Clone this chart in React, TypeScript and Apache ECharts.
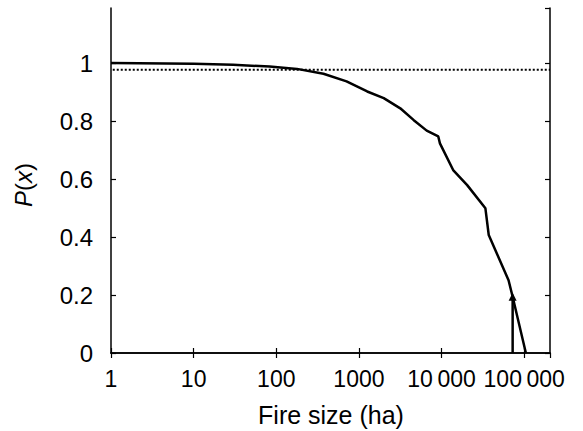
import React, { useEffect, useRef } from "react";
import * as echarts from "echarts";

const fireSize = [1, 10, 30, 83, 178, 372, 708, 1259, 1995, 3162, 4571, 6607, 9120, 9550, 13800, 20400, 33900, 37200, 64600, 72400, 104700];
const probability = [1.0, 0.998, 0.994, 0.988, 0.98, 0.963, 0.937, 0.902, 0.879, 0.844, 0.804, 0.767, 0.747, 0.723, 0.631, 0.579, 0.499, 0.407, 0.251, 0.194, 0];
const verticalX = [72400, 72400];
const verticalY = [0, 0.194];
const dottedX = [1.05, 205000];
const dottedY = [0.977, 0.977];
const xMin = 1;
const xMax = 205000;
const yMin = 0;
const yMax = 1.19;

const FONT = "Liberation Sans, Arial, sans-serif";

function fmtX(v: number): string {
  const s = String(Math.round(v));
  if (s.length <= 4) return s;
  return s.slice(0, s.length - 3) + "\u2009" + s.slice(s.length - 3);
}

export default function App() {
  const ref = useRef<HTMLDivElement>(null);
  useEffect(() => {
    document.body.style.margin = "0";
    const chart = echarts.init(ref.current!, null, { renderer: "svg" });
    const axisLine = { show: true, lineStyle: { color: "#000", width: 1.5 } };
    const tick = { show: true, inside: true, length: 5, lineStyle: { color: "#000", width: 1.2 } };
    chart.setOption({
      animation: false,
      backgroundColor: "#fff",
      grid: { left: 111, right: 33, top: 8, bottom: 78, containLabel: false },
      xAxis: [
        {
          type: "log",
          logBase: 10,
          min: xMin,
          max: xMax,
          axisLine,
          axisTick: tick,
          splitLine: { show: false },
          axisLabel: {
            color: "#000",
            fontFamily: FONT,
            fontSize: 23,
            margin: 14,
            showMaxLabel: false,
            formatter: (v: number) => fmtX(v),
          },
        },
        {
          type: "log",
          logBase: 10,
          min: xMin,
          max: xMax,
          position: "top",
          axisLine,
          axisTick: tick,
          splitLine: { show: false },
          axisLabel: { show: false },
        },
      ],
      yAxis: [
        {
          type: "value",
          min: yMin,
          max: yMax,
          interval: 0.2,
          axisLine,
          axisTick: tick,
          splitLine: { show: false },
          axisLabel: {
            color: "#000",
            fontFamily: FONT,
            fontSize: 24,
            margin: 18,
            showMaxLabel: false,
          },
        },
        {
          type: "value",
          min: yMin,
          max: yMax,
          interval: 0.2,
          position: "right",
          axisLine,
          axisTick: tick,
          splitLine: { show: false },
          axisLabel: { show: false },
        },
      ],
      series: [
        {
          type: "line",
          data: dottedX.map((x, i) => [x, dottedY[i]]),
          symbol: "none",
          lineStyle: { color: "#000", width: 2, type: [2, 2] },
        },
        {
          type: "line",
          data: fireSize.map((x, i) => [x, probability[i]]),
          symbol: "none",
          lineStyle: { color: "#000", width: 2.5 },
        },
        {
          type: "line",
          data: verticalX.map((x, i) => [x, verticalY[i]]),
          symbol: (_v: any, p: any) => (p.dataIndex === 1 ? "triangle" : "none"),
          symbolSize: 8,
          itemStyle: { color: "#000" },
          lineStyle: { color: "#000", width: 2.5 },
        },
      ],
      graphic: [
        {
          type: "text",
          x: 331,
          y: 415,
          style: {
            text: "Fire size (ha)",
            font: `25px ${FONT}`,
            fill: "#000",
            align: "center",
            verticalAlign: "middle",
          },
        },
        {
          type: "text",
          x: 23,
          y: 185,
          rotation: Math.PI / 2,
          style: {
            text: "{i|P}{n|(}{i|x}{n|)}",
            fill: "#000",
            align: "center",
            verticalAlign: "middle",
            rich: {
              i: { font: `italic 24px ${FONT}`, fill: "#000" },
              n: { font: `24px ${FONT}`, fill: "#000" },
            },
          },
        },
      ],
    });
    return () => chart.dispose();
  }, []);
  return <div ref={ref} style={{ width: 583, height: 431 }} />;
}
